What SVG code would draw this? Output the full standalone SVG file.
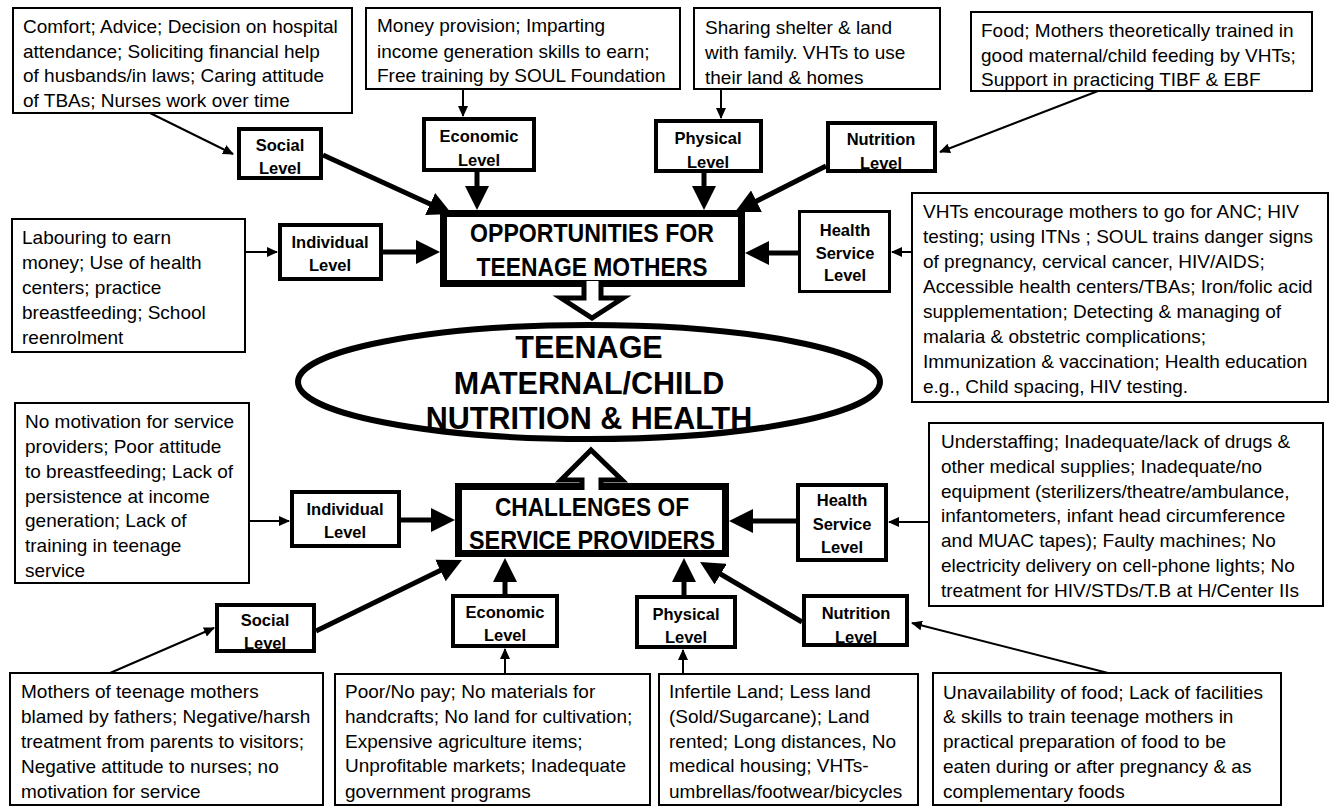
<svg xmlns="http://www.w3.org/2000/svg" width="1337" height="807" viewBox="0 0 1337 807">
<defs>
<style>
.box{fill:#fff;stroke:#000;stroke-width:2}
.lvl{fill:#fff;stroke:#000;stroke-width:4}
.main{fill:#fff;stroke:#000;stroke-width:7}
.t{font-family:"Liberation Sans",Arial,sans-serif;font-size:19px;fill:#000}
.lt{font-family:"Liberation Sans",Arial,sans-serif;font-size:16.5px;font-weight:bold;text-anchor:middle;fill:#000}
.mt{font-family:"Liberation Sans",Arial,sans-serif;font-size:26px;font-weight:bold;text-anchor:middle;fill:#000}
.et{font-family:"Liberation Sans",Arial,sans-serif;font-size:30.5px;font-weight:bold;text-anchor:middle;fill:#000}
.thin{stroke:#000;stroke-width:2;fill:none;marker-end:url(#ah)}
.thick{stroke:#000;stroke-width:5;fill:none;marker-end:url(#AH)}
</style>
<marker id="ah" markerUnits="userSpaceOnUse" markerWidth="11" markerHeight="10" refX="10" refY="5" orient="auto"><path d="M0,0 L11,5 L0,10 z" fill="#000"/></marker>
<marker id="AH" markerUnits="userSpaceOnUse" markerWidth="24" markerHeight="24" refX="18" refY="12" orient="auto"><path d="M0,0 L24,12 L0,24 z" fill="#000"/></marker>
</defs>
<rect width="1337" height="807" fill="#fff"/>

<g id="connectors">
<line class="thin" x1="150" y1="113" x2="233" y2="154"/>
<line class="thin" x1="463" y1="89" x2="463" y2="116"/>
<line class="thin" x1="721" y1="89" x2="721" y2="118"/>
<line class="thin" x1="1098" y1="91" x2="940" y2="152"/>
<line class="thin" x1="241" y1="252" x2="277" y2="252"/>
<line class="thin" x1="927" y1="252" x2="892" y2="252"/>
<line class="thin" x1="249" y1="521" x2="289" y2="521"/>
<line class="thin" x1="929" y1="522" x2="889" y2="522"/>
<line class="thin" x1="110" y1="673" x2="214" y2="628"/>
<line class="thin" x1="505" y1="674" x2="505" y2="649"/>
<line class="thin" x1="683" y1="674" x2="683" y2="650"/>
<line class="thin" x1="1108" y1="673" x2="912" y2="623"/>

<line class="thick" x1="323" y1="155" x2="446.5" y2="211.5"/>
<line class="thick" x1="477" y1="172" x2="477" y2="204"/>
<line class="thick" x1="704" y1="173" x2="704" y2="204"/>
<line class="thick" x1="826" y1="166" x2="740.4" y2="209.3"/>
<line class="thick" x1="383" y1="252" x2="434" y2="252"/>
<line class="thick" x1="798" y1="253" x2="751" y2="253"/>
<line class="thick" x1="401" y1="520" x2="449" y2="520"/>
<line class="thick" x1="796" y1="521" x2="735" y2="521"/>
<line class="thick" x1="316" y1="631" x2="456.6" y2="562.6"/>
<line class="thick" x1="505" y1="594" x2="505" y2="564"/>
<line class="thick" x1="684" y1="595" x2="684" y2="564"/>
<line class="thick" x1="802" y1="622" x2="705.2" y2="565"/>
</g>

<g id="box-comfort">
<rect class="box" x="13" y="8" width="339" height="105"/>
<text class="t" x="23" y="33">Comfort; Advice; Decision on hospital</text>
<text class="t" x="23" y="58">attendance; Soliciting financial help</text>
<text class="t" x="23" y="82">of husbands/in laws; Caring attitude</text>
<text class="t" x="23" y="107">of TBAs; Nurses work over time</text>
</g>
<g id="box-money">
<rect class="box" x="366" y="8" width="314" height="81"/>
<text class="t" x="377" y="32">Money provision; Imparting</text>
<text class="t" x="377" y="58">income generation skills to earn;</text>
<text class="t" x="377" y="82">Free training by SOUL Foundation</text>
</g>
<g id="box-shelter">
<rect class="box" x="694" y="8" width="246" height="81"/>
<text class="t" x="705" y="34">Sharing shelter &amp; land</text>
<text class="t" x="705" y="59">with family. VHTs to use</text>
<text class="t" x="705" y="84">their land &amp; homes</text>
</g>
<g id="box-food">
<rect class="box" x="971" y="12" width="341" height="79"/>
<text class="t" x="981" y="37">Food; Mothers theoretically trained in</text>
<text class="t" x="981" y="62">good maternal/child feeding by VHTs;</text>
<text class="t" x="981" y="86">Support in practicing TIBF &amp; EBF</text>
</g>
<g id="box-labouring">
<rect class="box" x="12" y="219" width="233" height="133"/>
<text class="t" x="22" y="244">Labouring to earn</text>
<text class="t" x="22" y="269">money; Use  of health</text>
<text class="t" x="22" y="294">centers; practice</text>
<text class="t" x="22" y="319">breastfeeding; School</text>
<text class="t" x="22" y="344">reenrolment</text>
</g>
<g id="box-vht">
<rect class="box" x="912" y="193" width="416" height="209"/>
<text class="t" x="923" y="218">VHTs encourage mothers to go for ANC; HIV</text>
<text class="t" x="923" y="243">testing; using ITNs ; SOUL trains danger signs</text>
<text class="t" x="923" y="268">of pregnancy, cervical cancer, HIV/AIDS;</text>
<text class="t" x="923" y="293">Accessible health centers/TBAs; Iron/folic acid</text>
<text class="t" x="923" y="318">supplementation; Detecting &amp; managing of</text>
<text class="t" x="923" y="343">malaria &amp; obstetric complications;</text>
<text class="t" x="923" y="368">Immunization &amp; vaccination; Health education</text>
<text class="t" x="923" y="393">e.g., Child spacing, HIV testing.</text>
</g>
<g id="box-nomotivation">
<rect class="box" x="15" y="403" width="234" height="180"/>
<text class="t" x="25" y="428">No motivation for service</text>
<text class="t" x="25" y="453">providers; Poor attitude</text>
<text class="t" x="25" y="478">to breastfeeding; Lack of</text>
<text class="t" x="25" y="503">persistence at income</text>
<text class="t" x="25" y="527">generation; Lack of</text>
<text class="t" x="25" y="552">training in teenage</text>
<text class="t" x="25" y="577">service</text>
</g>
<g id="box-understaffing">
<rect class="box" x="929" y="423" width="394" height="183"/>
<text class="t" x="941" y="448">Understaffing; Inadequate/lack of drugs &amp;</text>
<text class="t" x="941" y="473">other medical supplies; Inadequate/no</text>
<text class="t" x="941" y="498">equipment (sterilizers/theatre/ambulance,</text>
<text class="t" x="941" y="522">infantometers, infant head circumference</text>
<text class="t" x="941" y="547">and MUAC tapes); Faulty machines; No</text>
<text class="t" x="941" y="572">electricity delivery on cell-phone lights; No</text>
<text class="t" x="941" y="597">treatment for HIV/STDs/T.B at H/Center IIs</text>
</g>
<g id="box-mothers">
<rect class="box" x="10" y="673" width="313" height="132"/>
<text class="t" x="21" y="698">Mothers of teenage mothers</text>
<text class="t" x="21" y="723">blamed by fathers; Negative/harsh</text>
<text class="t" x="21" y="748">treatment from parents to visitors;</text>
<text class="t" x="21" y="773">Negative attitude to nurses; no</text>
<text class="t" x="21" y="798">motivation for service</text>
</g>
<g id="box-poor">
<rect class="box" x="335" y="674" width="315" height="131"/>
<text class="t" x="345" y="698">Poor/No pay; No materials for</text>
<text class="t" x="345" y="723">handcrafts; No land for cultivation;</text>
<text class="t" x="345" y="748">Expensive  agriculture items;</text>
<text class="t" x="345" y="772">Unprofitable markets; Inadequate</text>
<text class="t" x="345" y="798">government programs</text>
</g>
<g id="box-infertile">
<rect class="box" x="659" y="674" width="259" height="131"/>
<text class="t" x="669" y="698">Infertile Land; Less land</text>
<text class="t" x="669" y="723">(Sold/Sugarcane); Land</text>
<text class="t" x="669" y="748">rented; Long distances, No</text>
<text class="t" x="669" y="772">medical housing; VHTs-</text>
<text class="t" x="669" y="798">umbrellas/footwear/bicycles</text>
</g>
<g id="box-unavailability">
<rect class="box" x="933" y="673" width="348" height="132"/>
<text class="t" x="943" y="699">Unavailability  of food; Lack of facilities</text>
<text class="t" x="943" y="723">&amp; skills to train teenage mothers in</text>
<text class="t" x="943" y="748">practical preparation of food to be</text>
<text class="t" x="943" y="773">eaten during or after pregnancy &amp; as</text>
<text class="t" x="943" y="798">complementary foods</text>
</g>

<g id="lvl-social-top"><rect class="lvl" x="239" y="129" width="82" height="49"/><text class="lt" x="280" y="151">Social</text><text class="lt" x="280" y="174">Level</text></g>
<g id="lvl-economic-top"><rect class="lvl" x="424" y="119" width="110" height="51"/><text class="lt" x="479" y="142">Economic</text><text class="lt" x="479" y="166">Level</text></g>
<g id="lvl-physical-top"><rect class="lvl" x="656" y="121" width="105" height="50"/><text class="lt" x="708" y="144">Physical</text><text class="lt" x="708" y="168">Level</text></g>
<g id="lvl-nutrition-top"><rect class="lvl" x="828" y="123" width="107" height="48"/><text class="lt" x="881" y="145">Nutrition</text><text class="lt" x="881" y="169">Level</text></g>
<g id="lvl-individual-top"><rect class="lvl" x="280" y="225" width="101" height="54"/><text class="lt" x="330" y="248">Individual</text><text class="lt" x="330" y="271">Level</text></g>
<g id="lvl-health-top"><rect class="lvl" x="799.5" y="211.5" width="90" height="80" style="stroke-width:3"/><text class="lt" x="845" y="236">Health</text><text class="lt" x="845" y="259">Service</text><text class="lt" x="845" y="281">Level</text></g>

<g id="lvl-individual-bottom"><rect class="lvl" x="292" y="492" width="107" height="54"/><text class="lt" x="345" y="515">Individual</text><text class="lt" x="345" y="538">Level</text></g>
<g id="lvl-health-bottom"><rect class="lvl" x="798" y="485" width="88" height="75"/><text class="lt" x="842" y="506">Health</text><text class="lt" x="842" y="530">Service</text><text class="lt" x="842" y="553">Level</text></g>
<g id="lvl-social-bottom"><rect class="lvl" x="217" y="605" width="97" height="46"/><text class="lt" x="265" y="626">Social</text><text class="lt" x="265" y="649">Level</text></g>
<g id="lvl-economic-bottom"><rect class="lvl" x="453" y="596" width="104" height="50"/><text class="lt" x="505" y="618">Economic</text><text class="lt" x="505" y="641">Level</text></g>
<g id="lvl-physical-bottom"><rect class="lvl" x="637" y="597" width="98" height="50"/><text class="lt" x="686" y="620">Physical</text><text class="lt" x="686" y="643">Level</text></g>
<g id="lvl-nutrition-bottom"><rect class="lvl" x="804" y="596" width="103" height="49"/><text class="lt" x="856" y="619">Nutrition</text><text class="lt" x="856" y="643">Level</text></g>

<g id="opportunities">
<rect class="main" x="443.5" y="213.5" width="298" height="70"/>
<text class="mt" x="592" y="242" textLength="244" lengthAdjust="spacingAndGlyphs">OPPORTUNITIES FOR</text>
<text class="mt" x="592" y="276" textLength="231" lengthAdjust="spacingAndGlyphs">TEENAGE MOTHERS</text>
<path d="M584,281 L584,298 L561,298 L592,318 L623,298 L601,298 L601,281" fill="#fff" stroke="#000" stroke-width="5"/>
</g>

<g id="center">
<ellipse cx="589" cy="382" rx="291" ry="57" fill="#fff" stroke="#000" stroke-width="6"/>
<text class="et" x="589" y="358">TEENAGE</text>
<text class="et" x="589" y="394">MATERNAL/CHILD</text>
<text class="et" x="589" y="429">NUTRITION &amp; HEALTH</text>
</g>

<g id="challenges">
<rect class="main" x="458.5" y="486.5" width="267" height="67"/>
<text class="mt" x="592" y="516" textLength="194" lengthAdjust="spacingAndGlyphs">CHALLENGES OF</text>
<text class="mt" x="592" y="549" textLength="246" lengthAdjust="spacingAndGlyphs">SERVICE PROVIDERS</text>
<path d="M582,490 L582,480 L561,480 L591,450 L622,480 L601,480 L601,490" fill="#fff" stroke="#000" stroke-width="5"/>
</g>
</svg>
